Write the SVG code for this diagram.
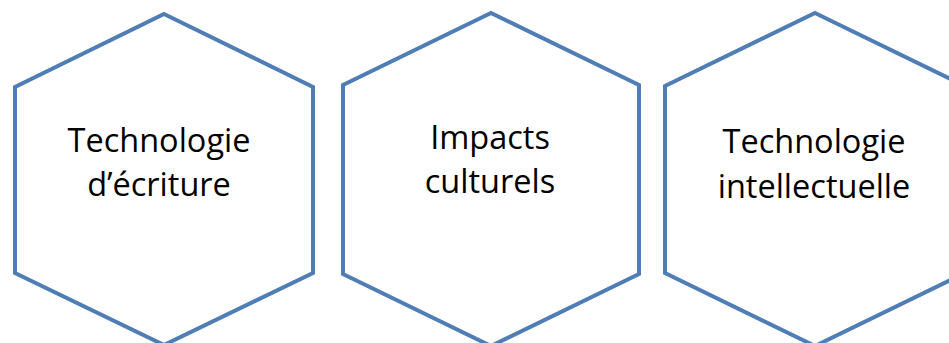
<svg xmlns="http://www.w3.org/2000/svg" width="949" height="343" viewBox="0 0 949 343">
<style>
.hex{fill:#ffffff;stroke:#4f7db5;stroke-width:4;stroke-linejoin:miter}
.lbl{font-family:"Open Sans","Liberation Sans",sans-serif;font-size:32.5px;fill:#000000;text-anchor:middle}
</style>
<rect width="949" height="343" fill="#ffffff"/>
<g id="node-technologie-ecriture">
<polygon class="hex" points="164,14 313,87 313,273 164,345 15,273 15,87"/>
<text class="lbl" x="159" y="152">Technologie</text>
<text class="lbl" x="159" y="196">d’écriture</text>
</g>
<g id="node-impacts-culturels">
<polygon class="hex" points="491,13 639,85 639,274 491,346 343,274 343,85"/>
<text class="lbl" x="490" y="149">Impacts</text>
<text class="lbl" x="490" y="193">culturels</text>
</g>
<g id="node-technologie-intellectuelle">
<polygon class="hex" points="815,13 965,86 965,273 815,346 665,273 665,86"/>
<text class="lbl" x="814" y="153">Technologie</text>
<text class="lbl" x="814" y="198">intellectuelle</text>
</g>
<g id="connectors"></g>
</svg>
